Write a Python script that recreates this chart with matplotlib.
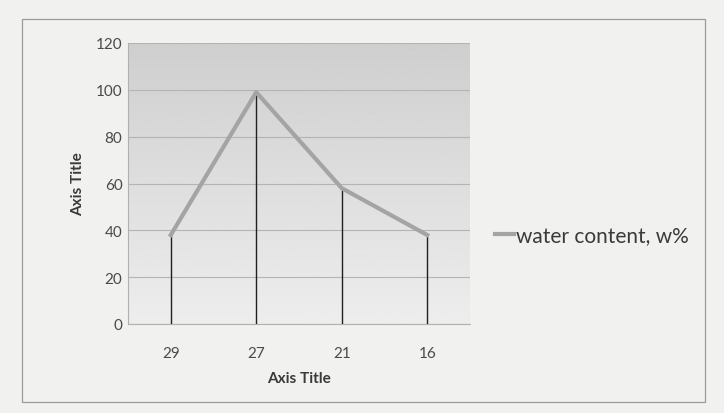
import numpy as np
import matplotlib
matplotlib.use('Agg')
import matplotlib.pyplot as plt
from matplotlib.patches import Rectangle

# data
categories = ['29', '27', '21', '16']
water_content = [38, 99, 58, 38]
y_ticks = [0, 20, 40, 60, 80, 100, 120]
series_name = 'water content, w%'

plt.rcParams['font.family'] = ['Lato', 'DejaVu Sans']

fig = plt.figure(figsize=(7.24, 4.14), dpi=100)
fig.patch.set_facecolor('#f1f1ef')

# chart frame
fig.patches.append(Rectangle((22 / 724, 1 - 403 / 414), 683 / 724, 383 / 414,
                             transform=fig.transFigure, fill=False,
                             edgecolor='#9a9a9a', linewidth=0.9))

ax = fig.add_axes([128 / 724, 1 - 325 / 414, 342 / 724, 281 / 414])
ax.set_facecolor('#e6e6e6')

x = np.arange(len(categories)) + 0.5

# soft vertical gradient behind the plot area, darker at the top
grad = np.linspace(0.93, 0.81, 256).reshape(-1, 1)
ax.imshow(grad, extent=[0, len(categories), 0, 120], aspect='auto',
          cmap='gray', vmin=0, vmax=1, zorder=0, origin='lower')
ax.set_xlim(0, len(categories))
ax.set_ylim(0, 120)

ax.set_yticks(y_ticks)
ax.yaxis.grid(True, color='#b4b4b4', linewidth=0.8, zorder=1)
ax.set_xticks(x)
ax.set_xticklabels(categories)
ax.tick_params(axis='both', length=0, labelsize=11, colors='#4a4a4a')
ax.tick_params(axis='x', pad=16)
ax.tick_params(axis='y', pad=4)

for s in ['top', 'right']:
    ax.spines[s].set_visible(False)
ax.spines['left'].set_color('#b0b0b0')
ax.spines['bottom'].set_color('#b0b0b0')

# drop lines
ax.vlines(x, 0, water_content, color='#202020', linewidth=1.0, zorder=3)
line, = ax.plot(x, water_content, color='#a4a4a4', linewidth=3, zorder=4,
                solid_joinstyle='round', label=series_name)

ax.set_xlabel('Axis Title', fontsize=11, fontweight='bold', color='#3a3a3a', labelpad=8)
ax.set_ylabel('Axis Title', fontsize=11, fontweight='bold', color='#3a3a3a', labelpad=8)

fig.legend(handles=[line], loc='center left', bbox_to_anchor=(476 / 724, 1 - 236 / 414),
           frameon=False, handlelength=0.9, handletextpad=0.1, fontsize=15,
           labelcolor='#3a3a3a')

fig.savefig('out.png', dpi=100, facecolor=fig.get_facecolor())
